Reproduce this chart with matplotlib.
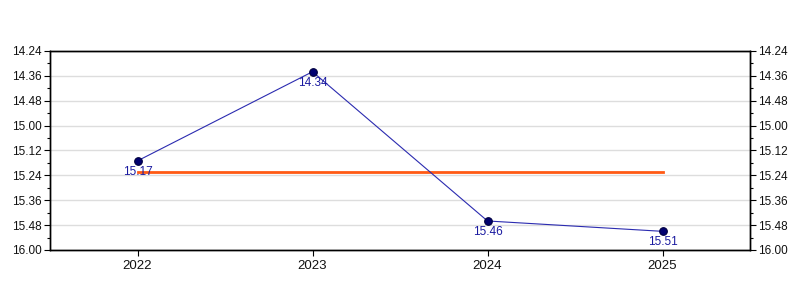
import matplotlib
matplotlib.use("Agg")
import matplotlib.pyplot as plt
from matplotlib.ticker import FixedLocator, MultipleLocator

years = ["2022", "2023", "2024", "2025"]
times = ["15.17", "14.34", "15.46", "15.51"]   # minutes.seconds
avg_seconds = 922.5                              # orange reference line (≈15:22)
y_ticks = ["14.24", "14.36", "14.48", "15.00", "15.12", "15.24", "15.36", "15.48", "16.00"]

def to_sec(s):
    m, sec = s.split(".")
    return int(m) * 60 + int(sec)

vals = [to_sec(t) for t in times]
tick_vals = [to_sec(t) for t in y_ticks]
x = list(range(len(years)))

plt.rcParams['font.family'] = ['Liberation Sans', 'DejaVu Sans']

fig = plt.figure(figsize=(8, 3), dpi=100)
ax = fig.add_axes([0.0625, 0.1667, 0.875, 0.6633])

ax.set_xlim(-0.5, len(years) - 0.5)
ax.set_ylim(tick_vals[-1], tick_vals[0])

for t in tick_vals:
    ax.axhline(t, color="#dddddd", lw=1, zorder=0)

ax.plot([x[0], x[-1]], [avg_seconds, avg_seconds], color="#ff5a14", lw=2, zorder=2)
ax.plot(x, vals, color="#2b2bb0", lw=0.8, zorder=3)
ax.plot(x, vals, "o", ms=5.5, mfc="#000070", mec="#000040", mew=0.8, zorder=4)

for xi, v, t in zip(x, vals, times):
    ax.annotate(t, (xi, v), xytext=(0, -3.5), textcoords="offset points",
                ha="center", va="top", fontsize=8.5, color="#1a1aa0", zorder=5)

ax.set_xticks(x)
ax.set_xticklabels(years, fontsize=9.5, color="#111111")
ax.yaxis.set_major_locator(FixedLocator(tick_vals))
ax.yaxis.set_minor_locator(MultipleLocator(6))
ax.set_yticklabels(y_ticks, fontsize=8.5, color="#111111")
ax.tick_params(axis="both", which="major", direction="out", length=4, width=0.8, pad=2)
ax.tick_params(axis="x", which="major", pad=3)
ax.tick_params(axis="y", which="minor", direction="out", length=2.2, width=0.8)
ax.tick_params(axis="y", which="both", left=True, right=True, labelleft=True, labelright=False)

ax2 = ax.twinx()
ax2.set_ylim(ax.get_ylim())
ax2.yaxis.set_major_locator(FixedLocator(tick_vals))
ax2.yaxis.set_minor_locator(MultipleLocator(6))
ax2.set_yticklabels(y_ticks, fontsize=8.5, color="#111111")
ax2.tick_params(axis="y", which="major", direction="out", length=4, width=0.8, pad=2)
ax2.tick_params(axis="y", which="minor", direction="out", length=2.2, width=0.8)

for a in (ax, ax2):
    for s in a.spines.values():
        s.set_linewidth(1)
        s.set_color("black")

fig.savefig("out.png", dpi=100, facecolor="white")
